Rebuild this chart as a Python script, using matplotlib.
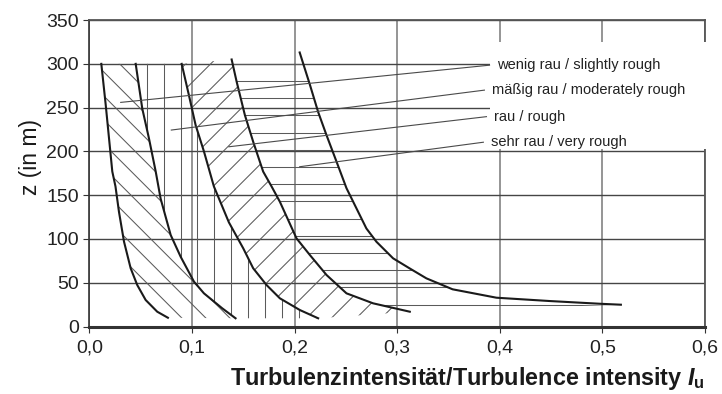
import matplotlib.pyplot as plt
import numpy as np
from matplotlib.patches import Polygon, Rectangle

plt.rcParams['font.family'] = ['Liberation Sans', 'DejaVu Sans']
plt.rcParams['mathtext.fontset'] = 'custom'
plt.rcParams['mathtext.rm'] = 'Liberation Sans'
plt.rcParams['mathtext.bf'] = 'Liberation Sans:bold'
plt.rcParams['mathtext.it'] = 'Liberation Sans:italic'
plt.rcParams['mathtext.bfit'] = 'Liberation Sans:italic:bold'

# profile boundaries (x = Iu, z in m)
x1 = [0.0117, 0.016, 0.0192, 0.0224, 0.0255, 0.0289, 0.0338, 0.0403, 0.0467, 0.0549, 0.0662, 0.0766]
z1 = [300, 253, 215, 177, 160, 131, 97, 66.5, 47.4, 30.3, 16.9, 10]
x2 = [0.0452, 0.0516, 0.0581, 0.0647, 0.0695, 0.0793, 0.089, 0.102, 0.1117, 0.1295, 0.1425]
z2 = [300, 249, 215, 177, 146, 104.5, 79.7, 51.2, 37.9, 20.8, 9.4]
x3 = [0.090, 0.0971, 0.1036, 0.1117, 0.1214, 0.136, 0.150, 0.1597, 0.1727, 0.1857, 0.2052, 0.223]
z3 = [300, 264, 230, 200, 160, 119, 89.3, 66.5, 47.4, 32.2, 18.8, 9.4]
x4 = [0.1387, 0.1435, 0.1516, 0.1597, 0.1694, 0.1776, 0.1857, 0.2019, 0.2149, 0.2312, 0.2506, 0.2765, 0.3123]
z4 = [305, 280, 241.5, 211, 177, 160, 142.5, 100.7, 81.7, 58.8, 37.9, 26.5, 16.9]
x5 = [0.205, 0.215, 0.223, 0.231, 0.241, 0.2506, 0.270, 0.2798, 0.296, 0.312, 0.3285, 0.354, 0.3967, 0.4486, 0.4973, 0.518]
z5 = [313, 276, 245, 219, 188, 158, 112, 96.8, 77.9, 66.5, 55, 42.5, 32.9, 29.1, 26, 24.9]

labels = ['wenig rau / slightly rough', 'mäßig rau / moderately rough',
          'rau / rough', 'sehr rau / very rough']
leader_start = [(0.0306, 256), (0.0799, 224.4), (0.136, 205.3), (0.205, 182.5)]
leader_end = [(0.390, 298.5), (0.385, 270), (0.387, 239.7), (0.384, 210.5)]

xticks = [0, 0.1, 0.2, 0.3, 0.4, 0.5, 0.6]
xticklabels = ['0,0', '0,1', '0,2', '0,3', '0,4', '0,5', '0,6']
yticks = [0, 50, 100, 150, 200, 250, 300, 350]

W, H = 722, 394
left, bottom, width, height = 0.1237, 0.1713, 0.8528, 0.7777
fig = plt.figure(figsize=(W / 100, H / 100), dpi=100)
ax = fig.add_axes([left, bottom, width, height])
ax.set_xlim(0, 0.6)
ax.set_ylim(0, 350)

px_x = W * width / 0.6
px_z = H * height / 350


def hatch(xs, zs, kind, step, phase):
    poly = Polygon(np.column_stack([xs, zs]), closed=True, fc='none', ec='none')
    ax.add_patch(poly)
    xmax, ymax = 0.6 * px_x, 350 * px_z
    if kind == '-':
        cs = np.arange(phase, ymax, step)
        segs = [([0, 0.6], [c / px_z, c / px_z]) for c in cs]
    elif kind == '|':
        cs = np.arange(phase, xmax, step)
        segs = [([c / px_x, c / px_x], [0, 350]) for c in cs]
    elif kind == '\\':
        cs = np.arange(phase, xmax + ymax, step)
        segs = [([0, 0.6], [c / px_z, (c - xmax) / px_z]) for c in cs]
    else:
        cs = np.arange(phase - xmax - step * 40, ymax, step)
        cs = cs[cs > -xmax]
        segs = [([0, 0.6], [c / px_z, (c + xmax) / px_z]) for c in cs]
    for sx, sz in segs:
        ax.plot(sx, sz, color='#5a5a5a', lw=0.75, clip_path=poly, zorder=2)


hatch(x1 + x2[::-1], z1 + z2[::-1], '\\', 24, 5)
hatch(x2 + x3[::-1], z2 + z3[::-1], '|', 16.9, 6.7)
hatch(x3 + x4[::-1], z3 + z4[::-1], '/', 25, 7)
hatch(x4 + x5[::-1], z4 + z5[::-1], '-', 17.2, 4.7)

for xs, zs in [(x1, z1), (x2, z2), (x3, z3), (x4, z4), (x5, z5)]:
    ax.plot(xs, zs, color='#1a1a1a', lw=1.5, zorder=4)

ax.add_patch(Rectangle((0.39, 203), 0.215, 122, fc='white', ec='none',
                       zorder=2.7, clip_on=False))
for lab, (xs, zs), (xe, ze) in zip(labels, leader_start, leader_end):
    ax.plot([xs, xe], [zs, ze], color='#4a4a4a', lw=0.8, zorder=5)
    ax.text(xe + 0.007, ze, lab, fontsize=10.5, va='center', ha='left',
            color='#222222', zorder=6)

ax.set_xticks(xticks)
ax.set_xticklabels(xticklabels)
ax.set_yticks(yticks)
ax.tick_params(labelsize=14, length=4.5, width=0.8, colors='#333333',
               labelcolor='#222222')
ax.tick_params(axis='x', pad=5)
ax.tick_params(axis='y', pad=3)
ax.xaxis.grid(True, color='#8c8c8c', lw=1.3)
ax.yaxis.grid(True, color='#454545', lw=1.0)
ax.set_axisbelow(True)
ax.spines['bottom'].set_linewidth(2.2)
ax.spines['bottom'].set_color('#333333')
ax.spines['left'].set_linewidth(1.2)
ax.spines['left'].set_color('#333333')
ax.spines['top'].set_linewidth(1.3)
ax.spines['top'].set_color('#555555')
ax.spines['right'].set_linewidth(1.3)
ax.spines['right'].set_color('#555555')

ax.set_xlabel('Turbulenzintensität/Turbulence intensity ' + r'$\mathbfit{I}_{\mathbf{u}}$',
              fontsize=16.8, fontweight='bold', color='#1a1a1a', loc='right', labelpad=6)
ax.set_ylabel('z (in m)', fontsize=16.5, color='#1a1a1a')
ax.yaxis.set_label_coords(-0.077, 0.553)

fig.savefig('out.png', dpi=100)
